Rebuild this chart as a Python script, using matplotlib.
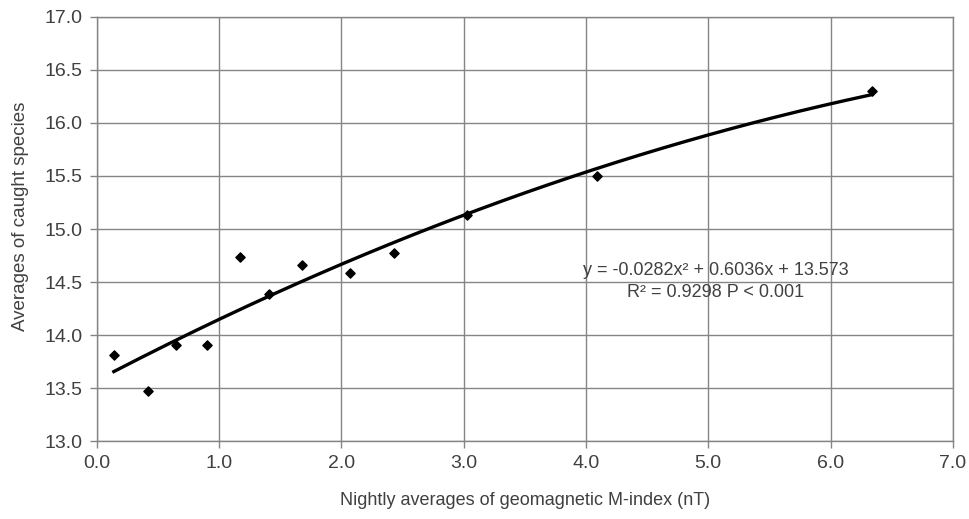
import numpy as np
import matplotlib.pyplot as plt

plt.rcParams.update({
    "font.family": ["Liberation Sans Narrow", "Liberation Sans", "DejaVu Sans"],
    "font.size": 14,
})

# nightly geomagnetic M-index averages vs. caught species averages
m_index = [0.14, 0.42, 0.65, 0.90, 1.17, 1.41, 1.68, 2.07, 2.43, 3.03, 4.09, 6.34]
species = [13.81, 13.47, 13.91, 13.91, 14.74, 14.39, 14.66, 14.59, 14.77, 15.13, 15.50, 16.30]

# polynomial trendline coefficients (from the chart's equation)
coef = [-0.0282, 0.6036, 13.573]

GRID = "#858585"
TEXT = "#404040"

fig = plt.figure(figsize=(9.7, 5.19), dpi=100)
ax = fig.add_axes([0.0997, 0.1497, 0.8826, 0.8181])

xs = np.linspace(min(m_index), max(m_index), 200)
ax.plot(xs, np.polyval(coef, xs), color="black", lw=2.4, zorder=3)
ax.scatter(m_index, species, marker="D", s=22, color="black", zorder=4)

ax.set_xlim(0, 7)
ax.set_ylim(13, 17)
ax.set_xticks(np.arange(0, 7.1, 1))
ax.set_yticks(np.arange(13, 17.01, 0.5))
ax.xaxis.set_major_formatter(plt.FormatStrFormatter("%.1f"))
ax.yaxis.set_major_formatter(plt.FormatStrFormatter("%.1f"))
ax.grid(True, color=GRID, lw=1.0)
for s in ax.spines.values():
    s.set_color(GRID)
    s.set_linewidth(1.0)
ax.tick_params(direction="out", length=5, width=1.0, color=GRID,
               labelcolor=TEXT, labelsize=14, pad=5)

ax.set_xlabel("Nightly averages of geomagnetic M-index (nT)", color=TEXT,
              fontsize=13, labelpad=14)
ax.set_ylabel("Averages of caught species", color=TEXT, fontsize=13.5)
ax.yaxis.set_label_coords(-0.079, 0.53)

ax.text(5.06, 14.61, "y = -0.0282x² + 0.6036x + 13.573", ha="center",
        va="center", color=TEXT, fontsize=13)
ax.text(5.06, 14.40, "R² = 0.9298 P < 0.001", ha="center", va="center",
        color=TEXT, fontsize=13)

fig.savefig("out.png", dpi=100)
